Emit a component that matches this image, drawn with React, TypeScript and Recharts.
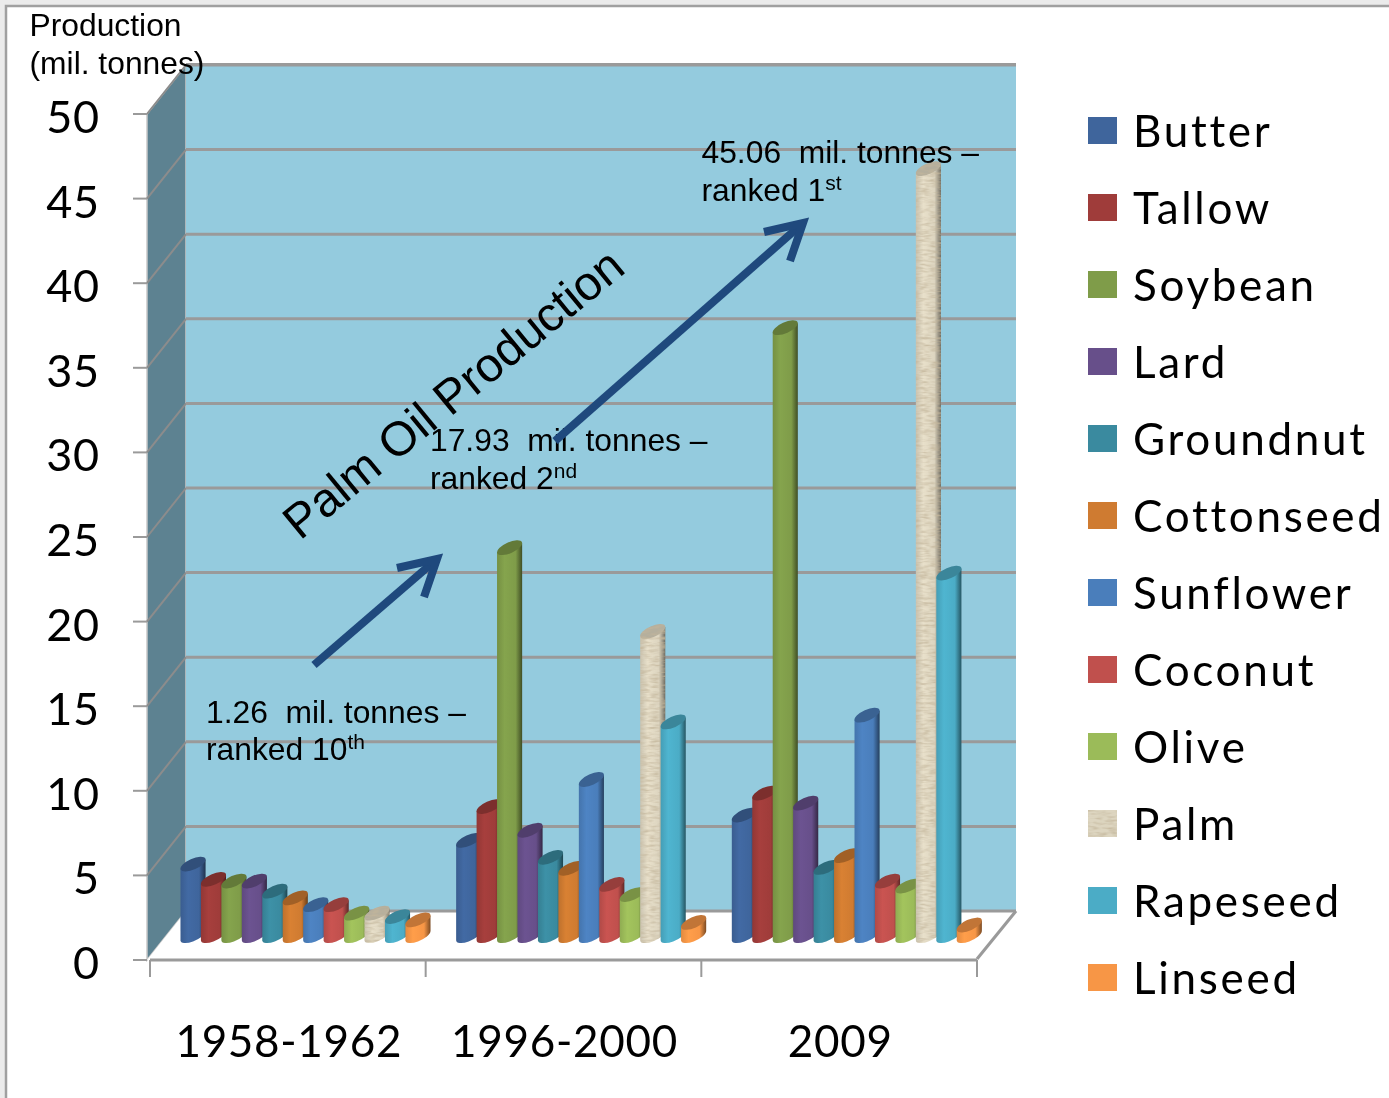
import React from "react";
import { BarChart, Bar, XAxis, YAxis, CartesianGrid, Legend } from "recharts";

const categories = ["1958-1962", "1996-2000", "2009"];
const butter = [5.1, 6.5, 8.0];
const tallow = [4.2, 8.5, 9.3];
const soybean = [4.1, 23.8, 36.8];
const lard = [4.1, 7.1, 8.7];
const groundnut = [3.5, 5.5, 4.9];
const cottonseed = [3.1, 4.85, 5.6];
const sunflower = [2.7, 10.1, 13.9];
const coconut = [2.7, 3.9, 4.1];
const olive = [2.2, 3.3, 3.8];
const palm = [2.2, 18.85, 46.2];
const rapeseed = [2.0, 13.5, 22.3];
const linseed = [1.8, 1.65, 1.5];
const yTicks = [0, 5, 10, 15, 20, 25, 30, 35, 40, 45, 50];

const seriesNames = ["Butter", "Tallow", "Soybean", "Lard", "Groundnut", "Cottonseed", "Sunflower", "Coconut", "Olive", "Palm", "Rapeseed", "Linseed"];
const seriesValues = [butter, tallow, soybean, lard, groundnut, cottonseed, sunflower, coconut, olive, palm, rapeseed, linseed];
const seriesColors = ["#3f659c", "#9f3c3a", "#7f9c49", "#674f8a", "#3a8a9f", "#cf7b31", "#4a7ebb", "#c0504d", "#9bbb59", "#ddd5c0", "#4bacc6", "#f79646"];

const data = categories.map((name, c) => {
  const row: Record<string, string | number> = { name };
  seriesNames.forEach((s, i) => (row[s] = seriesValues[i][c]));
  return row;
});

const W = 1389;
const H = 1098;
const GRAY = "#9a9a9a";
const BACK_DY = 49;
const BACK_DX = 38;
const LATO = "Lato, 'Open Sans', sans-serif";
const ARIAL = "'Liberation Sans', Arial, sans-serif";

function shade(hex: string, f: number) {
  const n = parseInt(hex.slice(1), 16);
  const ch = [(n >> 16) & 255, (n >> 8) & 255, n & 255].map((v) => Math.min(255, Math.round(v * f)));
  return `rgb(${ch[0]},${ch[1]},${ch[2]})`;
}

// slanted elliptical column, a stand-in for the old Excel 3D cylinder
function Column(props: any) {
  const { x, y, width, height, idx } = props;
  if (width == null) return null;
  const color = seriesColors[idx];
  const w = width + 4.6;
  const X = x + 15.5;
  const base = y + height - 17;
  const top = y - 17;
  const a = w / 2 + 1.0;
  const b = 5.4;
  const t = (24 * Math.PI) / 180;
  const hw = Math.sqrt(a * a * Math.cos(t) ** 2 + b * b * Math.sin(t) ** 2);
  const hh = Math.sqrt(a * a * Math.sin(t) ** 2 + b * b * Math.cos(t) ** 2);
  const d = ((a * a - b * b) * Math.sin(t) * Math.cos(t)) / hw;
  const cx = X + w / 2;
  const cyTop = top + hh;
  const cyBot = Math.max(base - hh, cyTop + 1);
  const body = `M${cx - hw} ${cyTop + d} L${cx - hw} ${cyBot + d} A${a} ${b} -24 0 0 ${cx + hw} ${cyBot - d} L${cx + hw} ${cyTop - d} Z`;
  return (
    <g filter={idx === 9 ? "url(#palmNoise)" : undefined}>
      <path d={body} fill={`url(#col${idx})`} />
      <ellipse cx={cx} cy={cyTop} rx={a} ry={b} transform={`rotate(-24 ${cx} ${cyTop})`} fill={shade(color, idx === 9 ? 0.82 : 0.78)} />
    </g>
  );
}

function GridRow(props: any) {
  const { x1, x2, y1 } = props;
  if (y1 > 950) return <g />;
  return (
    <g>
      <line x1={x1 - 3} y1={y1} x2={x1 + BACK_DX - 2} y2={y1 - BACK_DY} stroke="#8c8c8c" strokeWidth={2} />
      <line x1={x1 + BACK_DX - 2} y1={y1 - BACK_DY} x2={x2 + BACK_DX + 1} y2={y1 - BACK_DY} stroke={GRAY} strokeWidth={3} />
    </g>
  );
}

function YTick(props: any) {
  const { y, payload } = props;
  return (
    <g>
      <line x1={133} y1={y} x2={147} y2={y} stroke={GRAY} strokeWidth={2} />
      <text x={100} y={y + 19} textAnchor="end" fontFamily={LATO} fontSize={45} letterSpacing={0.8} fill="#000">
        {payload.value}
      </text>
    </g>
  );
}

function XTick(props: any) {
  const { x, payload, index } = props;
  const half = 827 / 6;
  return (
    <g>
      <line x1={x - half} y1={960} x2={x - half} y2={977} stroke={GRAY} strokeWidth={2} />
      {index === 2 && <line x1={x + half} y1={960} x2={x + half} y2={977} stroke={GRAY} strokeWidth={2} />}
      <text x={x + 1} y={1057} textAnchor="middle" fontFamily={LATO} fontSize={44} letterSpacing={0.7} fill="#000">
        {payload.value}
      </text>
    </g>
  );
}

function LegendList(props: any) {
  const items = props.payload || [];
  return (
    <div style={{ width: 300 }}>
      {items.map((e: any) => (
        <div key={e.value} style={{ position: "relative", height: 77 }}>
          <svg width={30} height={28} style={{ position: "absolute", left: 0, top: 0 }}>
            <rect width={29} height={27} fill={e.color} filter={e.value === "Palm" ? "url(#palmNoise)" : undefined} />
          </svg>
          <span style={{ position: "absolute", left: 45, top: -14, fontFamily: LATO, fontSize: 44, lineHeight: "54px", color: "#000", whiteSpace: "nowrap", letterSpacing: 2.7 }}>
            {e.value}
          </span>
        </div>
      ))}
    </div>
  );
}

function Notes() {
  const note = { fontFamily: ARIAL, fontSize: 31.8, fill: "#000" };
  const sup = { fontSize: 21, dy: -11 };
  return (
    <svg width={W} height={H} style={{ position: "absolute", left: 0, top: 0, pointerEvents: "none" }}>
      <text {...note} x={29.5} y={36}>Production</text>
      <text {...note} x={29.5} y={74}>(mil. tonnes)</text>
      <text {...note} x={206} y={723} xmlSpace="preserve">1.26  mil. tonnes –</text>
      <text {...note} x={206} y={760}>ranked 10<tspan {...sup}>th</tspan></text>
      <text {...note} x={430} y={451} xmlSpace="preserve">17.93  mil. tonnes –</text>
      <text {...note} x={430} y={489}>ranked 2<tspan {...sup}>nd</tspan></text>
      <text {...note} x={701.5} y={163} xmlSpace="preserve">45.06  mil. tonnes –</text>
      <text {...note} x={701.5} y={201}>ranked 1<tspan {...sup}>st</tspan></text>
      <text x={300} y={541} fontFamily={ARIAL} fontSize={48} fill="#000" transform="rotate(-39.5 300 541)">
        Palm Oil Production
      </text>
      <g fill="none" stroke="#1f497d" strokeWidth={8}>
        <path d="M314 665 L437 559" />
        <path d="M397 568 L437 559 L424 597" />
        <path d="M555 441 L803 223" />
        <path d="M764 232 L803 223 L790 261" />
      </g>
    </svg>
  );
}

function Walls() {
  return (
    <svg width={W} height={H} style={{ position: "absolute", left: 0, top: 0 }}>
      <defs>
        {seriesColors.map((c, i) => (
          <linearGradient key={i} id={`col${i}`} x1="0" y1="0" x2="1" y2="0">
            <stop offset="0" stopColor={shade(c, 0.92)} />
            <stop offset="0.3" stopColor={shade(c, 1.05)} />
            <stop offset="0.74" stopColor={c} />
            <stop offset="1" stopColor={shade(c, 0.5)} />
          </linearGradient>
        ))}
        <filter id="palmNoise" x="0" y="0" width="1" height="1">
          <feTurbulence type="fractalNoise" baseFrequency="0.1 0.4" numOctaves={2} seed={4} />
          <feColorMatrix values="0 0 0 0 0.55  0 0 0 0 0.47  0 0 0 0 0.33  1.8 0 0 0 -0.7" />
          <feComposite in2="SourceAlpha" operator="in" result="n" />
          <feMerge>
            <feMergeNode in="SourceGraphic" />
            <feMergeNode in="n" />
          </feMerge>
        </filter>
      </defs>
      <rect width={W} height={6} fill="#ebebeb" />
      <rect width={6} height={H} fill="#ebebeb" />
      <path d="M6 1098 L6 6 L1389 6" fill="none" stroke="#a0a0a0" strokeWidth={2.5} />
      <polygon points="147,114 186,65 186,911 147,960" fill="#5d8291" stroke="#c8c8c8" strokeWidth={1.5} />
      <rect x={186} y={65} width={830} height={846} fill="#94cbde" />
      <line x1={186} y1={64.5} x2={1016} y2={64.5} stroke={GRAY} strokeWidth={3} />
      <polygon points="147,960 186,911 1016,911 977,960" fill="#ffffff" />
      <line x1={186} y1={911} x2={1016} y2={911} stroke={GRAY} strokeWidth={3} />
      <line x1={977} y1={959} x2={1016} y2={911} stroke={GRAY} strokeWidth={3} />
    </svg>
  );
}

export default function App() {
  return (
    <div style={{ position: "absolute", left: 0, top: 0, width: W, height: H, background: "#fff", overflow: "hidden", filter: "blur(0.5px)" }}>
      <Walls />
      <div style={{ position: "absolute", left: 0, top: 0 }}>
        <BarChart
          width={W}
          height={H}
          data={data}
          barSize={20.45}
          barGap={0}
          margin={{ top: 114, right: 112, bottom: 38, left: 90 }}
        >
          <CartesianGrid vertical={false} horizontal={GridRow as any} />
          <XAxis dataKey="name" height={100} axisLine={{ stroke: GRAY, strokeWidth: 3 }} tickLine={false} tick={XTick as any} interval={0} />
          <YAxis width={60} domain={[0, 50]} ticks={yTicks} axisLine={false} tickLine={false} tick={YTick as any} interval={0} />
          <Legend
            layout="vertical"
            align="right"
            verticalAlign="top"
            itemSorter={null as any}
            wrapperStyle={{ position: "absolute", left: 1088, top: 117, width: 300 }}
            content={LegendList as any}
          />
          {seriesNames.map((s, i) => (
            <Bar key={s} dataKey={s} fill={seriesColors[i]} isAnimationActive={false} shape={(p: any) => <Column {...p} idx={i} />} />
          ))}
        </BarChart>
      </div>
      <Notes />
    </div>
  );
}
